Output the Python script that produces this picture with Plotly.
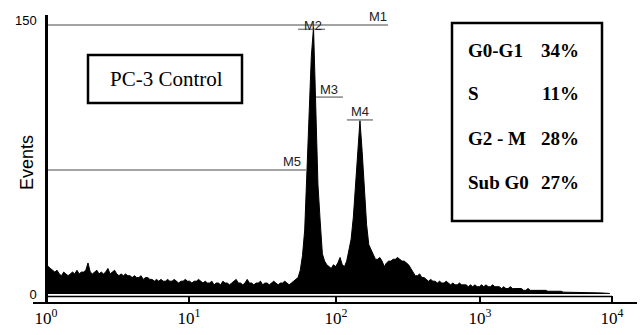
import plotly.graph_objects as go

# ---------------- data ----------------
# DNA-content histogram: event counts per log channel (256 channels, 10^0..10^4)
counts = [
    17, 15, 14, 13, 12, 13,
    11, 10, 12, 11, 10, 11, 12, 11, 13, 11, 12, 12, 13, 17,
    12, 11, 12, 13, 11, 12, 11, 12, 14, 11, 12, 13, 11, 10, 11, 10, 11, 10,
    10, 9, 10, 9, 9, 10, 8, 9, 9, 8,
    8, 7, 8, 7, 8, 7, 7, 8, 7, 7, 8, 7, 6, 7, 7, 8, 7, 7, 6, 7, 7, 8, 7,
    6, 7, 6, 6, 7, 5, 6, 6, 5, 7, 6, 6, 5, 6, 7, 8, 6, 6, 5, 6, 8, 6, 6, 5,
    6, 6, 7, 5, 6, 6, 5, 6, 7, 6, 5, 6, 6, 7, 6, 5, 6, 7, 8,
    9, 13, 21, 35, 68, 100, 130, 146, 105, 60, 40, 22,
    18, 16, 15, 14, 16, 15, 17, 20, 16, 15,
    18, 24, 30, 42, 60, 80, 95, 78, 58, 38, 27, 24, 21,
    19, 19, 20, 18, 15, 17, 18, 18, 19, 19, 20, 19, 18, 18, 17, 16, 14, 12, 10, 10,
    11, 9, 9, 8, 7, 8, 7, 7, 6, 7, 6, 6, 7, 6, 5, 6, 5, 5, 6, 5, 5, 5, 4, 5, 4, 5, 4,
    4, 5, 4, 5, 4, 4, 5, 4, 4, 4, 3, 4, 3, 3, 4, 3, 3, 3, 3,
    3, 2, 2, 3, 2, 2, 2, 2, 2, 2, 2, 2, 1.5, 1.5, 1.5, 1.5, 1.5, 1.5,
    1.5, 1, 1, 1, 1, 1, 1, 1, 1, 1, 1, 1, 0.8, 0.8, 0.8, 0.8, 0.6, 0.6, 0.6, 0.5, 0.5, 0.4, 0.3,
]
channels = list(range(len(counts)))

# decade tick positions (channel numbers) and their labels
decade_channels = [0, 64.7, 131.2, 196.3, 256]
decade_labels = ["10<sup>0</sup>", "10<sup>1</sup>", "10<sup>2</sup>", "10<sup>3</sup>", "10<sup>4</sup>"]

# marker gates (in channels) and their display level (events)
gate_names = ["M1", "M2", "M3", "M4", "M5"]
gate_start = [0, 114, 122.1, 136.1, 0]
gate_end = [154.7, 126.2, 134.3, 147.9, 118.1]
gate_level = [147.3, 144.9, 107.8, 95.3, 67.9]

# cell-cycle phase summary
phase_labels = ["G0-G1", "S", "G2 - M", "Sub G0"]
phase_pct = [34, 11, 28, 27]

y_ticks = [0, 150]

# ---------------- layout helpers ----------------
W, H = 642, 335
L, R, T, B = 33, 5, 15, 33
PW, PH = W - L - R, H - T - B


def px_x(px):
    return (px - L) / PW


def px_y(py):
    return (T + PH - py) / PH


SANS = "Liberation Sans, Arial, sans-serif"
SERIF = "Liberation Serif, Times New Roman, serif"

fig = go.Figure()

fig.add_trace(go.Scatter(
    x=channels, y=counts, mode="lines", fill="tozeroy",
    fillcolor="black", line=dict(color="black", width=1),
    hoverinfo="skip", showlegend=False,
))

annotations = []
label_cfg = {  # anchor and pixel shifts for gate labels
    "M1": ("end", "right", 1, 8),
    "M2": ("mid", "center", 1.5, 4),
    "M3": ("mid", "center", 0, 8),
    "M4": ("mid", "center", 0, 8),
    "M5": ("end", "right", -4, 8),
}
for name, a, b, lvl in zip(gate_names, gate_start, gate_end, gate_level):
    fig.add_trace(go.Scatter(
        x=[a, b], y=[lvl, lvl], mode="lines",
        line=dict(color="#858585", width=1.5),
        hoverinfo="skip", showlegend=False,
    ))
    where, xa, xs, ys = label_cfg[name]
    xpos = b if where == "end" else (a + b) / 2
    annotations.append(dict(
        x=xpos, y=lvl, xref="x", yref="y", text=name, showarrow=False,
        xanchor=xa, yanchor="middle", xshift=xs, yshift=ys,
        font=dict(family=SANS, size=13, color="#222"),
    ))

shapes = [
    # baseline of the histogram frame
    dict(type="line", xref="x", yref="paper", x0=0, x1=256,
         y0=px_y(296.5), y1=px_y(296.5), line=dict(color="black", width=1.5)),
    # "PC-3 Control" box
    dict(type="rect", xref="paper", yref="paper",
         x0=px_x(88), x1=px_x(242), y0=px_y(103), y1=px_y(55),
         line=dict(color="black", width=2.5)),
    # phase summary box
    dict(type="rect", xref="paper", yref="paper",
         x0=px_x(452), x1=px_x(602), y0=px_y(221), y1=px_y(23),
         line=dict(color="black", width=2.5)),
]

annotations.append(dict(
    x=px_x(166), y=px_y(79), xref="paper", yref="paper", text="PC-3 Control",
    showarrow=False, xanchor="center", yanchor="middle",
    font=dict(family=SERIF, size=21, color="black"),
))

row_y = [50, 93.5, 138, 182]
for lab, pct, ry in zip(phase_labels, phase_pct, row_y):
    annotations.append(dict(
        x=px_x(466), y=px_y(ry), xref="paper", yref="paper", text=f"<b>{lab}</b>",
        showarrow=False, xanchor="left", yanchor="middle",
        font=dict(family=SERIF, size=19, color="black"),
    ))
    annotations.append(dict(
        x=px_x(581), y=px_y(ry), xref="paper", yref="paper", text=f"<b>{pct}%</b>",
        showarrow=False, xanchor="right", yanchor="middle",
        font=dict(family=SERIF, size=19, color="black"),
    ))

annotations.append(dict(
    x=px_x(26.5), y=px_y(162.5), xref="paper", yref="paper", text="Events",
    showarrow=False, textangle=-90, xanchor="center", yanchor="middle",
    font=dict(family=SANS, size=18, color="black"),
))

fig.update_layout(
    width=W, height=H,
    margin=dict(l=L, r=R, t=T, b=B, pad=0),
    paper_bgcolor="white", plot_bgcolor="white",
    showlegend=False,
    shapes=shapes, annotations=annotations,
    xaxis=dict(
        range=[-5.88, 267.3], showgrid=False, zeroline=False,
        showline=True, linecolor="black", linewidth=2,
        ticks="inside", ticklen=6, tickwidth=2, tickcolor="black",
        tickvals=decade_channels, ticktext=decade_labels,
        tickfont=dict(family=SERIF, size=17, color="black"),
    ),
    yaxis=dict(
        range=[-4.38, 152.74], showgrid=False, zeroline=False,
        anchor="free", position=px_x(46),
        showline=True, linecolor="black", linewidth=2.5,
        ticks="", tickvals=y_ticks, ticktext=[str(v) for v in y_ticks],
        ticklabelstandoff=6,
        tickfont=dict(family=SANS, size=13, color="black"),
    ),
)

fig.write_html("out.html")
